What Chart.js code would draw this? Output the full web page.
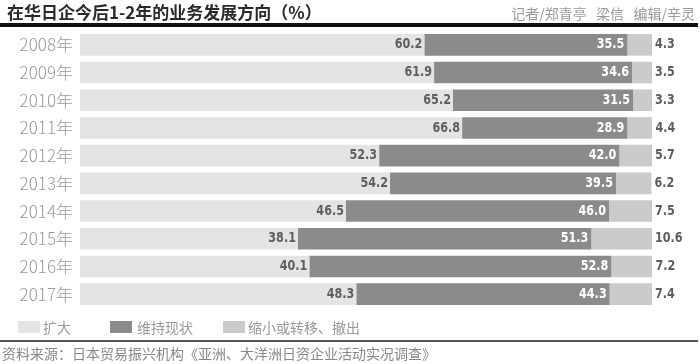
<!DOCTYPE html>
<html>
<head>
<meta charset="utf-8">
<script src="https://cdn.jsdelivr.net/npm/chart.js@4"></script>
<style>
  body { margin: 0; background: #fff; }
  #wrap { position: relative; width: 700px; height: 364px; overflow: hidden; font-family: "Noto Sans CJK SC", sans-serif; }
  #wrap canvas { position: absolute; left: 0; top: 0; }
  .title { position: absolute; left: 7px; top: 1px; font-size: 17px; line-height: 22px; font-weight: 700; color: #2a2a2a; white-space: nowrap; }
  .credit { position: absolute; right: 5px; top: 2px; font-size: 14px; line-height: 22px; color: #999; white-space: pre; }
  .rule { position: absolute; left: 0; top: 23px; width: 698px; height: 4px; background: #111; }
  .rule2 { position: absolute; left: 0; top: 340px; width: 698px; height: 2px; background: #555; }
  .source { position: absolute; left: 2px; top: 343px; font-size: 14px; line-height: 20px; color: #888; white-space: nowrap; }
  .legend { position: absolute; top: 318px; left: 0; height: 20px; font-size: 14px; color: #999; }
  .legend span { position: absolute; top: 0; line-height: 18px; white-space: nowrap; }
  .legend i { position: absolute; top: 3px; width: 22px; height: 12px; }
</style>
</head>
<body>
<div id="wrap">
  <canvas id="chart" width="700" height="364"></canvas>
  <div class="title">在华日企今后1-2年的业务发展方向（%）</div>
  <div class="credit">记者/郑青亭   梁信   编辑/辛灵</div>
  <div class="rule"></div>
  <div class="legend" id="legend"></div>
  <div class="rule2"></div>
  <div class="source">资料来源：日本贸易振兴机构《亚洲、大洋洲日资企业活动实况调查》</div>
</div>
<script>
  // 데이터
  const years = ["2008年", "2009年", "2010年", "2011年", "2012年", "2013年", "2014年", "2015年", "2016年", "2017年"];
  const expand = [60.2, 61.9, 65.2, 66.8, 52.3, 54.2, 46.5, 38.1, 40.1, 48.3];
  const maintain = [35.5, 34.6, 31.5, 28.9, 42.0, 39.5, 46.0, 51.3, 52.8, 44.3];
  const shrink = [4.3, 3.5, 3.3, 4.4, 5.7, 6.2, 7.5, 10.6, 7.2, 7.4];
  const seriesNames = ["扩大", "维持现状", "缩小或转移、撤出"];
  const seriesColors = ["#e4e4e4", "#8b8b8b", "#cbcbcb"];

  // 범례 (HTML)
  const legendEl = document.getElementById("legend");
  const boxLeft = [18, 110, 223];
  const textLeft = [43, 137, 248];
  seriesNames.forEach(function (name, i) {
    const box = document.createElement("i");
    box.style.left = boxLeft[i] + "px";
    box.style.background = seriesColors[i];
    legendEl.appendChild(box);
    const txt = document.createElement("span");
    txt.style.left = textLeft[i] + "px";
    txt.textContent = name;
    legendEl.appendChild(txt);
  });

  // 막대 위 숫자 라벨 (가로로 눌린 굵은 글꼴)
  const squeeze = 0.8;
  function drawNarrow(ctx, text, x, y, align) {
    ctx.save();
    ctx.translate(x, y);
    ctx.scale(squeeze, 1);
    ctx.textAlign = align;
    ctx.fillText(text, 0, 0);
    ctx.restore();
  }

  const valueLabels = {
    id: "valueLabels",
    afterDatasetsDraw(chart) {
      const ctx = chart.ctx;
      ctx.save();
      ctx.font = "bold 14px 'DejaVu Sans', sans-serif";
      ctx.textBaseline = "middle";
      chart.data.datasets.forEach(function (ds, di) {
        const meta = chart.getDatasetMeta(di);
        meta.data.forEach(function (bar, i) {
          const text = ds.data[i].toFixed(1);
          if (di === 0) {
            ctx.fillStyle = "#5e5e5e";
            drawNarrow(ctx, text, bar.x - 2, bar.y, "right");
          } else if (di === 1) {
            ctx.fillStyle = "#fff";
            drawNarrow(ctx, text, bar.x - 3, bar.y, "right");
          } else {
            ctx.fillStyle = "#5e5e5e";
            drawNarrow(ctx, text, bar.x + 3, bar.y, "left");
          }
        });
      });
      ctx.restore();
    },
  };

  new Chart(document.getElementById("chart"), {
    type: "bar",
    data: {
      labels: years,
      datasets: [
        { label: seriesNames[0], data: expand, backgroundColor: seriesColors[0] },
        { label: seriesNames[1], data: maintain, backgroundColor: seriesColors[1] },
        { label: seriesNames[2], data: shrink, backgroundColor: seriesColors[2] },
      ],
    },
    options: {
      indexAxis: "y",
      responsive: false,
      animation: false,
      events: [],
      layout: { padding: { top: 31, bottom: 56, left: 0, right: 48 } },
      datasets: {
        bar: { categoryPercentage: 1, barPercentage: 0.78, borderWidth: 0 },
      },
      scales: {
        x: { stacked: true, min: 0, max: 100, display: false },
        y: {
          stacked: true,
          afterFit(scale) { scale.width = 80; },
          grid: { display: false, drawTicks: false },
          border: { display: false },
          ticks: {
            padding: 7,
            color: "#9a9a9a",
            font: { family: "'Noto Sans CJK SC', sans-serif", size: 17, weight: 300 },
          },
        },
      },
      plugins: {
        legend: { display: false },
        tooltip: { enabled: false },
      },
    },
    plugins: [valueLabels],
  });
</script>
</body>
</html>
